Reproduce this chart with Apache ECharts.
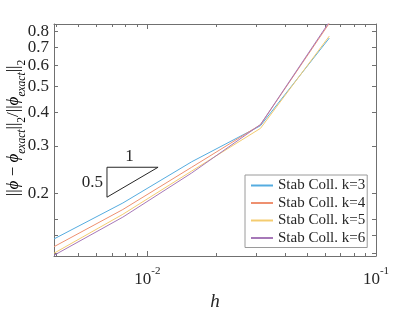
<!DOCTYPE html>
<html>
<head>
<meta charset="utf-8">
<script src="https://cdn.jsdelivr.net/npm/echarts@6/dist/echarts.min.js"></script>
<style>html,body{margin:0;padding:0;background:#fff;}#c{width:415px;height:312px;}</style>
</head>
<body>
<div id="c"></div>
<script>
// ---- data ----
const hValues = [1/256, 1/128, 1/64, 1/32, 1/16];
const seriesNames = ['Stab Coll. k=3', 'Stab Coll. k=4', 'Stab Coll. k=5', 'Stab Coll. k=6'];
const errK3 = [0.1352, 0.184, 0.262, 0.357, 0.757];
const errK4 = [0.1265, 0.174, 0.250, 0.360, 0.86];
const errK5 = [0.1196, 0.167, 0.242, 0.349, 0.770];
const errK6 = [0.1175, 0.163, 0.238, 0.3605, 0.87];
const xRange = [1/256, 0.1];
const yRange = [0.1168, 0.854];
const xMajorTicks = [0.01, 0.1];
const xMinorTicks = [0.004,0.005,0.006,0.007,0.008,0.009,0.02,0.03,0.04,0.05,0.06,0.07,0.08,0.09];
const yTickLabelsA = [0.2, 0.4, 0.6, 0.8];
const yTickLabelsB = [0.3, 0.5, 0.7];
const yMinorTicks = [0.12, 0.14, 0.16];
const triX = [0.00666, 0.01114, 0.00666, 0.00666];
const triY = [0.25, 0.25, 0.1934, 0.25];
const triRunLabel = '1';
const triRiseLabel = '0.5';

const L = Math.log10;
const colors = ['#55ACE0', '#EE9070', '#F4CC70', '#A678B8'];
const axisColor = '#707070';
const textColor = '#262626';
const serif = '"Liberation Serif", "DejaVu Serif", serif';

function mkX(pos, ticks, len, showLine, label) {
  return {
    type: 'value', position: pos, min: L(xRange[0]), max: L(xRange[1]),
    axisLine: { show: showLine, onZero: false, lineStyle: { color: axisColor, width: 1 } },
    axisTick: { show: true, inside: true, length: len, customValues: ticks.map(L), lineStyle: { color: axisColor } },
    axisLabel: label ? {
      show: true, customValues: xMajorTicks.map(L), margin: 10, hideOverlap: false,
      showMinLabel: true, showMaxLabel: true,
      formatter: v => '{b|10}{s|' + Math.round(v) + '}',
      rich: {
        b: { fontFamily: serif, fontSize: 17, color: textColor, lineHeight: 22, verticalAlign: 'bottom' },
        s: { fontFamily: serif, fontSize: 11, color: textColor, lineHeight: 22, verticalAlign: 'top' }
      }
    } : { show: false },
    splitLine: { show: false }
  };
}
function mkY(pos, ticks, len, showLine, labels) {
  return {
    type: 'value', position: pos, min: L(yRange[0]), max: L(yRange[1]),
    axisLine: { show: showLine, onZero: false, lineStyle: { color: axisColor, width: 1 } },
    axisTick: ticks ? { show: true, inside: true, length: len, customValues: ticks.map(L), lineStyle: { color: axisColor } } : { show: false },
    axisLabel: labels ? {
      show: true, customValues: labels.map(L), margin: 5, hideOverlap: false,
      showMinLabel: true, showMaxLabel: true,
      formatter: v => Math.pow(10, v).toFixed(1),
      fontFamily: serif, fontSize: 17, lineHeight: 13, color: textColor
    } : { show: false },
    splitLine: { show: false }
  };
}

const allYTicks = yMinorTicks.concat(yTickLabelsA, yTickLabelsB);
const errs = [errK3, errK4, errK5, errK6];

const chart = echarts.init(document.getElementById('c'), null, { renderer: 'canvas' });
const option = {
  animation: false,
  backgroundColor: '#fff',
  grid: { left: 54, right: 39, top: 24, bottom: 56, containLabel: false, outerBoundsMode: 'none' },
  xAxis: [
    Object.assign(mkX('bottom', xMajorTicks, 5, true, true), {
      name: 'h', nameLocation: 'middle', nameGap: 29,
      nameTextStyle: { fontFamily: serif, fontStyle: 'italic', fontSize: 19, color: textColor }
    }),
    mkX('bottom', xMinorTicks, 3, false, false),
    mkX('top', xMajorTicks, 5, true, false),
    mkX('top', xMinorTicks, 3, false, false)
  ],
  yAxis: [
    mkY('left', allYTicks, 4, true, yTickLabelsA),
    mkY('left', null, 4, false, yTickLabelsB),
    mkY('right', allYTicks, 4, true, null)
  ],
  legend: {
    data: seriesNames,
    orient: 'vertical', left: 245, top: 175,
    padding: [3, 2, 2, 5], itemGap: 2.5, itemWidth: 22, itemHeight: 14, itemTextGap: 1,
    itemStyle: { opacity: 0 },
    backgroundColor: '#fff', borderColor: '#9a9a9a', borderWidth: 1, borderRadius: 0,
    textStyle: { fontFamily: serif, fontSize: 15, lineHeight: 14, color: textColor }
  },
  series: errs.map((e, i) => ({
    name: seriesNames[i], type: 'line', symbol: 'none', clip: true,
    xAxisIndex: 0, yAxisIndex: 0,
    lineStyle: { color: colors[i], width: 1 }, itemStyle: { color: colors[i] },
    data: hValues.map((h, j) => [L(h), L(e[j])])
  })).concat([{
    name: 'triangle', type: 'line', symbol: 'none', xAxisIndex: 0, yAxisIndex: 0,
    lineStyle: { color: textColor, width: 1 }, silent: true,
    data: triX.map((x, j) => [L(x), L(triY[j])])
  }])
};
chart.setOption(option);

// annotation text and y label
const pTop = chart.convertToPixel({ xAxisIndex: 0, yAxisIndex: 0 }, [(L(triX[0]) + L(triX[1])) / 2, L(triY[0])]);
const pLeft = chart.convertToPixel({ xAxisIndex: 0, yAxisIndex: 0 }, [L(triX[0]), (L(triY[0]) + L(triY[2])) / 2]);
const big = { fontFamily: serif, fontSize: 17, color: textColor, lineHeight: 24, verticalAlign: 'middle' };
const bigI = Object.assign({}, big, { fontStyle: 'italic' });
const sub = { fontFamily: serif, fontSize: 11.5, color: textColor, lineHeight: 28, verticalAlign: 'bottom' };
const subI = Object.assign({}, sub, { fontStyle: 'italic' });
chart.setOption({
  graphic: [
    { type: 'text', x: pTop[0] - 3, y: pTop[1] - 2, style: { text: triRunLabel, fontFamily: serif, fontSize: 17, fill: textColor, align: 'center', verticalAlign: 'bottom' } },
    { type: 'text', x: pLeft[0] - 4, y: pLeft[1], style: { text: triRiseLabel, fontFamily: serif, fontSize: 17, fill: textColor, align: 'right', verticalAlign: 'middle' } },
    { type: 'text', x: 14, y: 128, rotation: Math.PI / 2,
      style: {
        text: '{n|||}{p|ϕ}{n| − }{p|ϕ}{s|exact}{n|||}{t|2}{n|/||}{p|ϕ}{s|exact}{n|||}{t|2}',
        align: 'center', verticalAlign: 'middle',
        rich: { n: big, p: bigI, s: subI, t: sub }
      } }
  ]
});
</script>
</body>
</html>
